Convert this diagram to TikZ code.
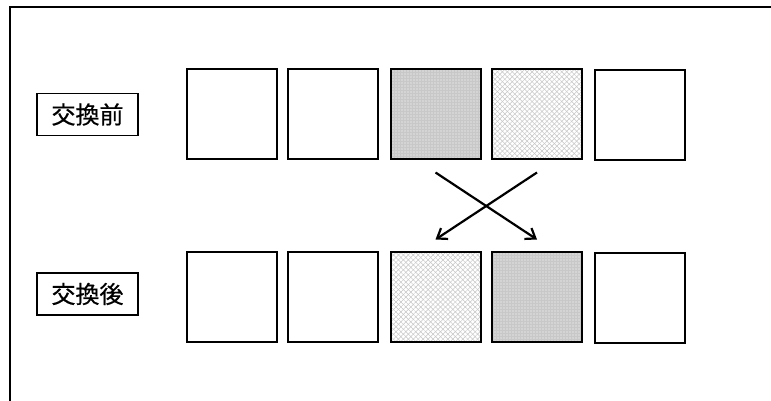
\documentclass[tikz,border=0pt]{standalone}
\usepackage{fontspec}
\newfontfamily\jp{Noto Sans CJK JP}[FakeBold=0.6]
\usetikzlibrary{patterns.meta,arrows.meta}
\begin{document}
\begin{tikzpicture}[x=1pt,y=-1pt,
  cell/.style={draw=black,line width=2pt,minimum width=90pt,minimum height=90pt,inner sep=0pt},
  whitecell/.style={cell,fill=white},
  darkcell/.style={cell,preaction={fill={rgb,255:red,200;green,200;blue,200}},preaction={pattern={Dots[distance=3pt,radius=0.55pt]},pattern color=white}},
  lightcell/.style={cell,preaction={fill=white},preaction={pattern={Lines[angle=45,distance=3.5pt,line width=0.5pt]},pattern color=gray!45},preaction={pattern={Lines[angle=-45,distance=3.5pt,line width=0.5pt]},pattern color=gray!45}},
  lab/.style={draw=black,line width=1.2pt,minimum width=101pt,minimum height=42pt,inner sep=0pt,font=\jp\fontsize{24}{24}\selectfont},
  xarrow/.style={line width=2.2pt,-{Straight Barb[length=9pt,width=13pt,line width=2.2pt]}}
]
\useasboundingbox (0,0) rectangle (771,401);
\coordinate (fl) at (10,401);
\coordinate (fc) at (10,7);
\coordinate (fr) at (771,7);
\draw[line width=2pt] (fl) -- (fc) -- (fr);

\node[lab] (before) at (87.5,114.5) {交換前};
\node[lab] (after) at (87.5,294) {交換後};

\node[whitecell] (t1) at (231.5,114.5) {};
\node[whitecell] (t2) at (333,114.5) {};
\node[darkcell] (t3) at (435.5,114.5) {};
\node[lightcell] (t4) at (537,114.5) {};
\node[whitecell] (t5) at (639.5,115.5) {};

\node[whitecell] (b1) at (231.5,296.5) {};
\node[whitecell] (b2) at (333,296.5) {};
\node[lightcell] (b3) at (435.5,296.5) {};
\node[darkcell] (b4) at (537,296.5) {};
\node[whitecell] (b5) at (639.5,297.5) {};

\draw[xarrow] ([yshift=-12pt]t3.south) -- ([yshift=11pt]b4.north);
\draw[xarrow] ([yshift=-12pt]t4.south) -- ([yshift=11pt]b3.north);
\end{tikzpicture}
\end{document}
